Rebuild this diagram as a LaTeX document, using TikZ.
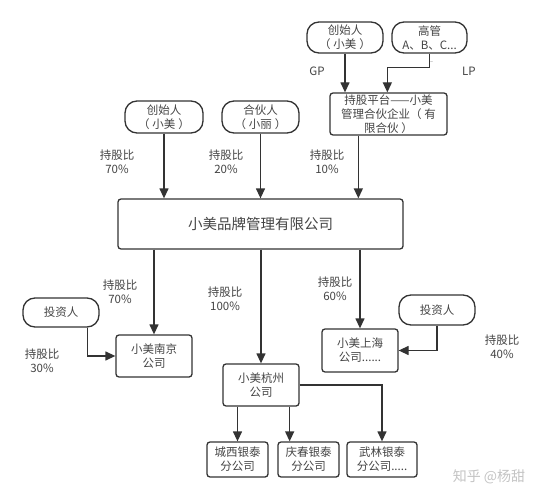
\documentclass[tikz,border=0pt]{standalone}
\usepackage{fontspec}
\setmainfont{Noto Sans CJK SC}
\usetikzlibrary{arrows.meta,calc}
\definecolor{ln}{HTML}{333333}
\definecolor{tx}{HTML}{444444}
\definecolor{wm}{HTML}{C4C4C4}
\newcommand{\lp}{（\kern3pt}
\newcommand{\rp}{\kern3pt）}
\begin{document}
\begin{tikzpicture}[x=1pt,y=-1pt,
 every node/.style={font=\fontsize{11.5}{14}\selectfont, text=tx, align=center, inner sep=0pt},
 pill/.style={draw=ln, line width=1.3pt, rounded corners=12pt},
 box/.style={draw=ln, line width=1.3pt, rounded corners=3pt},
 conn/.style={draw=ln, line width=1.3pt, -{Triangle[length=10pt,width=9pt]}}]
\useasboundingbox[fill=white] (0,0) rectangle (546,500);

% nodes
\node[pill, minimum width=76pt, minimum height=31pt] (f1) at (345,37.5) {创始人\\\lp 小美\rp};
\node[pill, minimum width=75pt, minimum height=31pt] (gg) at (429.5,37.5) {高管\\A、B、C...};
\node[box, minimum width=117pt, minimum height=42pt] (plat) at (388.5,114) {持股平台——小美\\管理合伙企业\lp 有\\限合伙\rp};
\node[pill, minimum width=78pt, minimum height=32pt] (c2) at (164,117) {创始人\\\lp 小美\rp};
\node[pill, minimum width=77pt, minimum height=32pt] (p2) at (260.5,117) {合伙人\\\lp 小丽\rp};
\node[box, minimum width=285pt, minimum height=50pt, font=\fontsize{14.5}{17}\selectfont] (main) at (260.5,224) {小美品牌管理有限公司};
\node[box, minimum width=76pt, minimum height=42pt] (nj) at (154,356) {小美南京\\公司};
\node[pill, minimum width=76pt, minimum height=29pt] (inv1) at (61,312.5) {投资人};
\node[box, minimum width=76pt, minimum height=42pt] (hz) at (261,385) {小美杭州\\公司};
\node[box, minimum width=76pt, minimum height=43pt] (sh) at (360,350.5) {小美上海\\公司......};
\node[pill, minimum width=76pt, minimum height=30pt] (inv2) at (437,310) {投资人};
\node[box, minimum width=61pt, minimum height=35pt] (cx) at (237.5,459.5) {城西银泰\\分公司};
\node[box, minimum width=61pt, minimum height=35pt] (qc) at (308.5,459.5) {庆春银泰\\分公司};
\node[box, minimum width=70pt, minimum height=35pt] (wl) at (382,459.5) {武林银泰\\分公司.....};

% labels
\node (gp) at (317,71) {GP};
\node (lpl) at (469,71) {LP};
\node[font=\fontsize{7}{8}\selectfont] (dd) at (431,62) {..};
\node (l1) at (117,162) {持股比\\70\%};
\node (l2) at (226,162) {持股比\\20\%};
\node (l3) at (327,162) {持股比\\10\%};
\node (l4) at (120,292) {持股比\\70\%};
\node (l5) at (225,299) {持股比\\100\%};
\node (l6) at (335,288.5) {持股比\\60\%};
\node (l7) at (42,361) {持股比\\30\%};
\node (l8) at (502,346.5) {持股比\\40\%};
\node[text=wm, font=\fontsize{14}{16}\selectfont] (wmk) at (489,477) {知乎 @杨甜};

% connectors
\draw[conn] (f1.south) -- (f1.south |- plat.north);
\coordinate (pin) at ([xshift=58pt]plat.north west);
\draw[conn] (gg.south) -- ++(0,14) -| (pin);
\coordinate (pb) at ([xshift=29pt]plat.south west);
\draw[conn] (pb) -- (pb |- main.north);
\draw[conn] (c2.south) -- (c2.south |- main.north);
\draw[conn] (p2.south) -- (p2.south |- main.north);
\draw[conn] (nj.north |- main.south) -- (nj.north);
\draw[conn] (hz.north |- main.south) -- (hz.north);
\draw[conn] (sh.north |- main.south) -- (sh.north);
\coordinate (i1) at ([xshift=65pt]inv1.south west);
\draw[conn] (i1) |- (nj.west);
\draw[conn] (inv2.south) |- (sh.east);
\draw[conn] (cx.north |- hz.south) -- (cx.north);
\coordinate (h2) at ([xshift=-10pt]hz.south east);
\draw[conn] (h2) -- (h2 |- qc.north);
\draw[conn] (hz.east) -| (wl.north);
\end{tikzpicture}
\end{document}
